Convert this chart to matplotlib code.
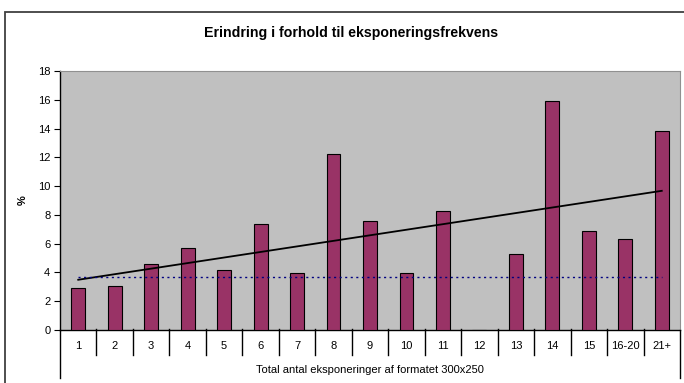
import numpy as np
import matplotlib
matplotlib.use("Agg")
import matplotlib.pyplot as plt
from matplotlib.patches import Rectangle

plt.rcParams['font.family'] = ['Liberation Sans', 'DejaVu Sans']

categories = ['1', '2', '3', '4', '5', '6', '7', '8', '9', '10', '11', '12',
              '13', '14', '15', '16-20', '21+']
recall = [2.9, 3.05, 4.6, 5.7, 4.15, 7.35, 3.95, 12.2, 7.6, 3.95, 8.3, 0.0,
          5.25, 15.9, 6.85, 6.35, 13.8]
baseline = 3.65

title = 'Erindring i forhold til eksponeringsfrekvens'
xlabel = 'Total antal eksponeringer af formatet 300x250'

W, H = 684, 383
fig = plt.figure(figsize=(W / 100, H / 100), dpi=100)

# outer chart frame
fig.patches.append(Rectangle((5 / W, -0.1), 1.2, 1 - 12 / H + 0.1,
                             transform=fig.transFigure, fill=False,
                             edgecolor='#404040', linewidth=1.3))

ax = fig.add_axes([60 / W, 1 - 330 / H, 620 / W, 259 / H])
ax.set_facecolor('#C0C0C0')

x = np.arange(len(categories))
ax.bar(x, recall, width=0.38, color='#993366', edgecolor='black', linewidth=0.8, zorder=3)

# linear trend line over all categories
k, m = np.polyfit(x, recall, 1)
ax.plot(x, k * x + m, color='black', linewidth=1.3, zorder=4)
ax.plot([x[0], x[-1]], [baseline, baseline], color='#000080', linestyle=(0, (1.5, 2.5)),
        linewidth=1.0, zorder=4)

ax.set_xlim(-0.5, len(categories) - 0.5)
ax.set_ylim(0, 18)
ax.set_yticks(np.arange(0, 19, 2))
ax.tick_params(axis='y', direction='out', length=4, width=0.8, labelsize=8, pad=3)
ax.set_xticks([])

for side in ['top', 'right']:
    ax.spines[side].set_color('#909090')
ax.spines['left'].set_linewidth(1.0)
ax.spines['bottom'].set_linewidth(1.0)

# category separators and labels below the axis
px = 1 / 259 * 18  # one pixel in data units on the y axis
for b in np.arange(0.5, len(categories) - 1, 1.0):
    ax.plot([b, b], [1.2 * px, -25 * px], color='black', linewidth=1.0, clip_on=False)
for xe in [-0.5, len(categories) - 0.5]:
    ax.plot([xe, xe], [0, -48 * px], color='black', linewidth=1.0, clip_on=False)
for xi, lab in zip(x, categories):
    ax.text(xi, -16 * px, lab, ha='center', va='center', fontsize=8)

ax.text((len(categories) - 1) / 2, -40 * px, xlabel, ha='center', va='center', fontsize=8)
ax.text(-37 / 620, 0.5, '%', transform=ax.transAxes, rotation=90, ha='center',
        va='center', fontsize=8, fontweight='bold')

fig.text(351 / W, 1 - 33 / H, title, ha='center', va='center',
         fontsize=10.2, fontweight='bold')

fig.savefig('out.png', dpi=100)
